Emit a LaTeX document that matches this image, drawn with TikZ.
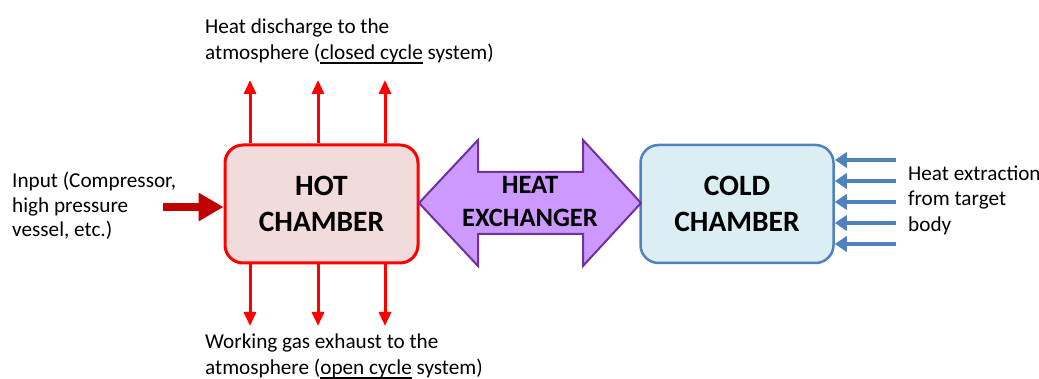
\documentclass[tikz,border=0pt]{standalone}
\usepackage{fontspec}
\setmainfont{Carlito}
\usetikzlibrary{arrows.meta}

\definecolor{hotfill}{HTML}{F2DCDB}
\definecolor{hotline}{HTML}{FF0000}
\definecolor{inputred}{HTML}{C00000}
\definecolor{coldfill}{HTML}{DBEEF4}
\definecolor{coldline}{HTML}{4F81BD}
\definecolor{hxfill}{HTML}{CC99FF}
\definecolor{hxline}{HTML}{7030A0}

\newcommand{\lineunder}[1]{\setbox0\hbox{#1}\rlap{\rule[-4pt]{\wd0}{1.2pt}}\box0\relax}

\begin{document}
\begin{tikzpicture}[x=1pt, y=-1pt,
		every node/.style={inner sep=0pt, align=left, font=\fontsize{21.2}{26.5}\selectfont},
		chamber/.style={rounded corners=18pt, minimum width=193pt, minimum height=118pt, align=center, font=\fontsize{29.5}{36}\selectfont\bfseries},
		hotarrow/.style={draw=hotline, line width=3pt, -{Triangle[length=14pt, width=12pt]}},
		coldarrow/.style={draw=coldline, line width=3.5pt, -{Triangle[length=12pt, width=15pt]}}]
				% \draw[help lines] (0,0) grid[step=50] (1039,379);
				\useasboundingbox (0,0) rectangle (1039,379);

				\node[chamber, fill=hotfill, draw=hotline, line width=3pt] (hot) at (321.5,204) {HOT\\CHAMBER};
				\node[chamber, fill=coldfill, draw=coldline, line width=2.5pt] (cold) at (737,204) {COLD\\CHAMBER};

				\draw[fill=hxfill, draw=hxline, line width=2pt, line join=miter] (419,203) -- (478,140) -- (478,172) -- (583,172) -- (583,140) -- (641,203) -- (583,266) -- (583,234) -- (478,234) -- (478,266) -- cycle;
				\node[align=center, font=\fontsize{26.5}{33}\selectfont\bfseries] (exchanger) at (530,201.5) {HEAT\\EXCHANGER};

				% heat out of the hot chamber
				\foreach \x/\n in {250/a, 318/b, 385/c} {
					\coordinate (up\n) at (\x,80);
					\coordinate (down\n) at (\x,326);
					\draw[hotarrow] (hot.north -| up\n) -- (up\n);
					\draw[hotarrow] (hot.south -| down\n) -- (down\n);
				}

				\coordinate (feed) at (163,207);
				\draw[draw=inputred, line width=8pt, -{Triangle[length=25pt, width=27pt]}] (feed) -- (feed -| hot.west);

				% heat drawn from the target body
				\foreach \y/\n in {160/a, 181/b, 202/c, 223/d, 244/e} {
					\coordinate (extract\n) at (896,\y);
					\draw[coldarrow] (extract\n) -- (extract\n -| cold.east);
				}

				\node[anchor=west] (discharge) at (205,41) {Heat discharge to the\\atmosphere (\lineunder{closed cycle} system)};
				\node[anchor=west] (exhaust) at (205,356) {Working gas exhaust to the\\atmosphere (\lineunder{open cycle} system)};
				\node[anchor=west, font=\fontsize{21.2}{24.5}\selectfont] (input) at (12,206) {Input (Compressor,\\high pressure\\vessel, etc.)};
				\node[anchor=west, font=\fontsize{21.2}{25.5}\selectfont] (extraction) at (908,200) {Heat extraction\\from target\\body};
			\end{tikzpicture}
\end{document}
